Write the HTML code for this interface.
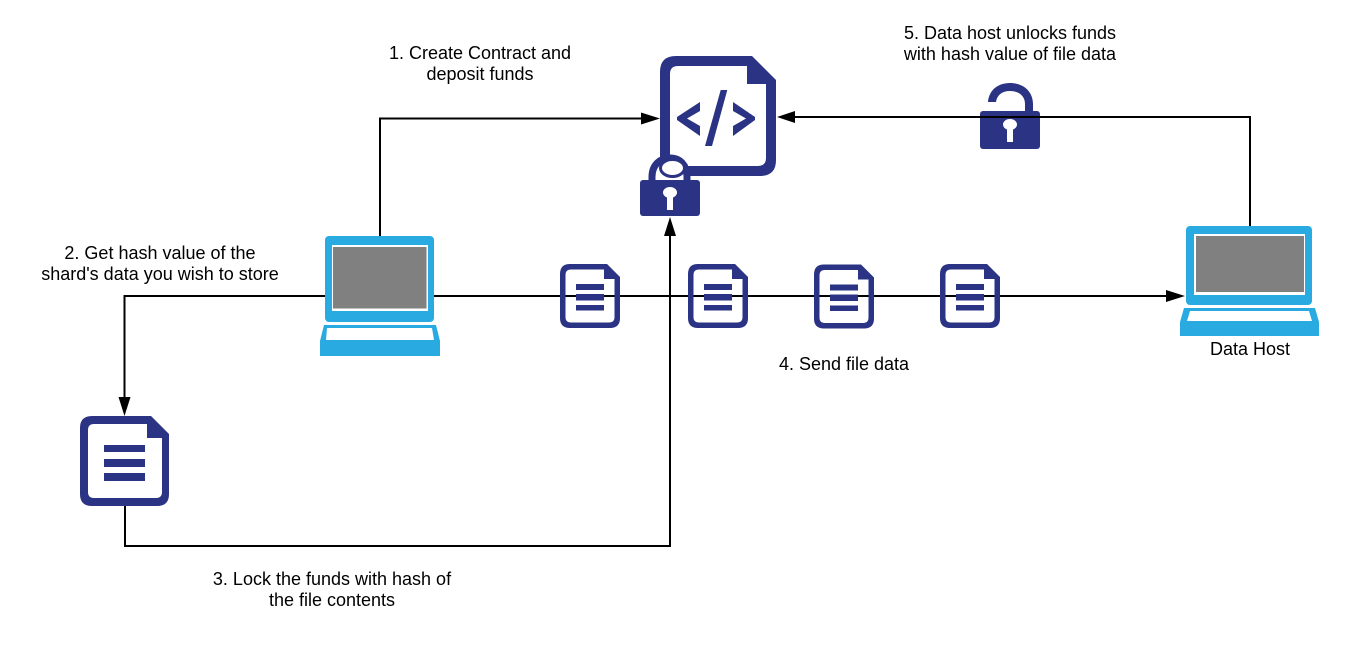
<!DOCTYPE html>
<html><head><meta charset="utf-8"><style>
html,body{margin:0;padding:0;background:#fff;width:1360px;height:662px;overflow:hidden}
svg{display:block}
text{font-family:"Liberation Sans",sans-serif;font-size:18px;fill:#000;text-anchor:middle}
</style></head><body>
<svg width="1360" height="662" viewBox="0 0 1360 662" xmlns="http://www.w3.org/2000/svg">
<rect width="1360" height="662" fill="#fff"/>
<!-- connectors -->
<g fill="none" stroke="#000" stroke-width="2">
<path d="M380 236V118.500H642"/>
<path d="M1250 226V117H795"/>
<path d="M325 296H124.500V400"/>
<path d="M125 506V546H670V234"/>
<path d="M434 296H1168"/>
</g>
<g fill="#000">
<path d="M660 118.500L641 112.500V124.500Z"/>
<path d="M777 117L795 111V123Z"/>
<path d="M124.500 416L118.500 397H130.500Z"/>
<path d="M670 217L664 236H676Z"/>
<path d="M1185 296L1166 290V302Z"/>
</g>
<g fill="#2a3384">
<!-- big contract doc -->
<path fill-rule="evenodd" d="M676 56H752L776 80V160Q776 176 760 176H676Q660 176 660 160V72Q660 56 676 56ZM678 66Q670 66 670 74V158Q670 166 678 166H758Q766 166 766 158V84H747V66Z"/>
<path d="M700 102L677 117V120L700 136V126L687 118.500L700 111Z"/>
<path d="M733 102L755 117V120L733 136V126L746 118.500L733 111Z"/>
<path d="M720.700 90H727.300L712 146H705Z"/>
<!-- bottom-left doc -->
<path fill-rule="evenodd" d="M92 416H151L169 434V494Q169 506 157 506H92Q80 506 80 494V428Q80 416 92 416ZM94 424Q88 424 88 430V492Q88 498 94 498H156Q162 498 162 492V438H147V424Z"/>
<rect x="104" y="445" width="41" height="7"/><rect x="104" y="459" width="41" height="8"/><rect x="104" y="473" width="41" height="8"/>
<!-- open lock -->
<rect x="980" y="111" width="60" height="38" rx="3"/>
<path d="M988 102C989 90 998 83 1010 83C1024 83 1033 92 1033 104V111H1025V104C1025 96 1019 91 1010 91C1002 91 997 95 996 102Z"/>
</g>
<path d="M980 117H1040" stroke="#000" stroke-width="2"/>
<!-- closed lock -->
<path d="M652 181V177C652 165 660 158 670 158C680 158 687 165 687 177V181" fill="#fff" stroke="#2a3384" stroke-width="7"/>
<ellipse cx="672.500" cy="168" rx="12" ry="8.500" fill="#fff" stroke="#2a3384" stroke-width="3"/>
<rect x="640" y="180" width="60" height="36" rx="3" fill="#2a3384"/>
<!-- small docs -->
<g fill="#2a3384">
<path fill-rule="evenodd" d="M570 264H607L620 277V318Q620 328 610 328H570Q560 328 560 318V274Q560 264 570 264ZM571 269.500Q565.500 269.500 565.500 275V317Q565.500 322.500 571 322.500H609Q614.500 322.500 614.500 317V279H604V269.500Z"/>
<path fill-rule="evenodd" transform="translate(128 0)" d="M570 264H607L620 277V318Q620 328 610 328H570Q560 328 560 318V274Q560 264 570 264ZM571 269.500Q565.500 269.500 565.500 275V317Q565.500 322.500 571 322.500H609Q614.500 322.500 614.500 317V279H604V269.500Z"/>
<path fill-rule="evenodd" transform="translate(254 0.500)" d="M570 264H607L620 277V318Q620 328 610 328H570Q560 328 560 318V274Q560 264 570 264ZM571 269.500Q565.500 269.500 565.500 275V317Q565.500 322.500 571 322.500H609Q614.500 322.500 614.500 317V279H604V269.500Z"/>
<path fill-rule="evenodd" transform="translate(380 0)" d="M570 264H607L620 277V318Q620 328 610 328H570Q560 328 560 318V274Q560 264 570 264ZM571 269.500Q565.500 269.500 565.500 275V317Q565.500 322.500 571 322.500H609Q614.500 322.500 614.500 317V279H604V269.500Z"/>
<path d="M576 284h28v6h-28zM576 294h28v6.500h-28zM576 305h28v5.500h-28z"/>
<path d="M704 284h28v6h-28zM704 294h28v6.500h-28zM704 305h28v5.500h-28z"/>
<path d="M830 284.500h28v6h-28zM830 294.500h28v6.500h-28zM830 305.500h28v5.500h-28z"/>
<path d="M956 284h28v6h-28zM956 294h28v6.500h-28zM956 305h28v5.500h-28z"/>
</g>
<!-- keyholes -->
<g fill="#fff">
<ellipse cx="670" cy="192.500" rx="7" ry="5.500"/><rect x="667" y="193" width="6" height="17"/>
<ellipse cx="1010" cy="124.500" rx="7" ry="5.500"/><rect x="1007" y="125" width="6" height="17"/>
</g>
<!-- laptops -->
<g fill="#29abe2">
<rect x="325" y="236" width="109" height="86" rx="4"/>
<path d="M324 325H436L440 341V356H320V341Z"/>
<rect x="1186" y="226" width="126" height="79" rx="4"/>
<path d="M1184 308H1315L1319 322V336H1180V322Z"/>
</g>
<g fill="#fff">
<rect x="332" y="245" width="96" height="66"/>
<path d="M327 328H432L434 340H326Z"/>
<rect x="1194" y="234" width="111" height="61"/>
<path d="M1190 311H1309L1312 321H1187Z"/>
</g>
<rect x="333" y="247" width="93.500" height="61.500" fill="#808080"/>
<rect x="1196" y="236" width="108" height="56" fill="#808080"/>
<!-- labels -->
<text x="480" y="59">1. Create Contract and</text>
<text x="480" y="80">deposit funds</text>
<text x="160" y="259">2. Get hash value of the</text>
<text x="160" y="280">shard's data you wish to store</text>
<text x="332" y="585">3. Lock the funds with hash of</text>
<text x="332" y="606">the file contents</text>
<text x="844" y="370">4. Send file data</text>
<text x="1010" y="39">5. Data host unlocks funds</text>
<text x="1010" y="60">with hash value of file data</text>
<text x="1250" y="355">Data Host</text>
</svg>
</body></html>
